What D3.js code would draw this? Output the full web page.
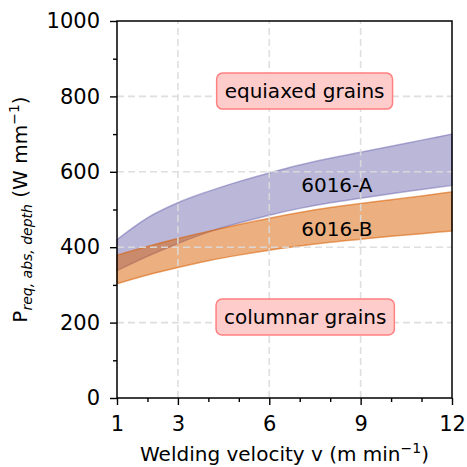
<!DOCTYPE html>
<html>
<head>
<meta charset="utf-8">
<script src="https://cdn.jsdelivr.net/npm/d3@7"></script>
<style>
  body { margin: 0; background: #fff; }
  text { font-family: "DejaVu Sans", sans-serif; fill: #000; }
</style>
</head>
<body>
<svg id="chart"></svg>
<script>
// values, P in W/mm at each welding velocity
var velocity = [1, 2, 3, 4, 5, 6, 7, 8, 9, 10, 11, 12];
var upperA = [420, 478, 518, 548, 574, 597, 618, 636, 652, 668, 684, 700];
var lowerA = [338, 376, 410, 440, 464, 485, 503, 518, 530, 542, 553, 564];
var upperB = [379, 402, 423, 442, 460, 477, 492, 505, 516, 526, 536, 547];
var lowerB = [303, 326, 346, 364, 379, 392, 403, 413, 421, 429, 436, 443];
var seriesNames = ["6016-A", "6016-B"];
var regionNames = ["equiaxed grains", "columnar grains"];
var xTicks = [1, 3, 6, 9, 12];
var xMinor = [2, 4, 5, 7, 8, 10, 11];
var yTicks = [0, 200, 400, 600, 800, 1000];
var yMinor = [100, 300, 500, 700, 900];

var width = 467, height = 467;
var margin = {top: 21, right: 15, bottom: 69, left: 117};

var svg = d3.select("#chart")
    .attr("width", width)
    .attr("height", height);

var x = d3.scaleLinear().domain([1, 12]).range([margin.left, width - margin.right]);
var y = d3.scaleLinear().domain([0, 1000]).range([height - margin.bottom, margin.top]);

var bands = [
  {name: seriesNames[0], lo: lowerA, hi: upperA, color: "#7570b3"},
  {name: seriesNames[1], lo: lowerB, hi: upperB, color: "#d95f02"}
];

var area = d3.area()
    .x(d => x(d.v))
    .y0(d => y(d.lo))
    .y1(d => y(d.hi))
    .curve(d3.curveMonotoneX);

bands.forEach(b => {
  var rows = velocity.map((v, i) => ({v: v, lo: b.lo[i], hi: b.hi[i]}));
  svg.append("path")
      .datum(rows)
      .attr("d", area)
      .attr("fill", b.color)
      .attr("fill-opacity", 0.5)
      .attr("stroke", b.color)
      .attr("stroke-opacity", 0.55)
      .attr("stroke-width", 1.5);
});

// dashed grid sits above the bands, like matplotlib does
var grid = svg.append("g").attr("stroke", "#dcdcdc").attr("stroke-width", 1.6)
    .attr("stroke-dasharray", "7,4").attr("opacity", 0.9);
grid.selectAll(".gx").data([3, 6, 9]).enter().append("line")
    .attr("x1", d => x(d)).attr("x2", d => x(d))
    .attr("y1", y(0)).attr("y2", y(1000));
grid.selectAll(".gy").data([200, 400, 600, 800]).enter().append("line")
    .attr("x1", x(1)).attr("x2", x(12))
    .attr("y1", d => y(d)).attr("y2", d => y(d));

// axes
var xAxis = svg.append("g")
    .attr("transform", "translate(0," + y(0) + ")")
    .call(d3.axisBottom(x).tickValues(xTicks).tickFormat(d3.format("d")).tickSize(7).tickPadding(11));
var xAxisMinor = svg.append("g")
    .attr("transform", "translate(0," + y(0) + ")")
    .call(d3.axisBottom(x).tickValues(xMinor).tickFormat("").tickSize(4));
var yAxis = svg.append("g")
    .attr("transform", "translate(" + x(1) + ",0)")
    .call(d3.axisLeft(y).tickValues(yTicks).tickFormat(d3.format("d")).tickSize(7).tickPadding(10));
var yAxisMinor = svg.append("g")
    .attr("transform", "translate(" + x(1) + ",0)")
    .call(d3.axisLeft(y).tickValues(yMinor).tickFormat("").tickSize(4));

[xAxis, xAxisMinor, yAxis, yAxisMinor].forEach(a => {
  a.select(".domain").remove();
  a.selectAll("line").attr("stroke", "#000").attr("stroke-width", 1.4);
  a.selectAll("text").attr("font-size", 21).attr("font-family", "DejaVu Sans").attr("fill", "#000");
});

svg.append("rect")
    .attr("x", x(1)).attr("y", y(1000))
    .attr("width", x(12) - x(1)).attr("height", y(0) - y(1000))
    .attr("fill", "none").attr("stroke", "#000").attr("stroke-width", 1.5);

// series labels
var seriesPos = [[8.22, 566], [8.22, 448]];
seriesNames.forEach((s, i) => {
  svg.append("text")
      .attr("x", x(seriesPos[i][0]))
      .attr("y", y(seriesPos[i][1]))
      .attr("text-anchor", "middle")
      .attr("dominant-baseline", "central")
      .attr("font-size", 20)
      .text(s);
});

// region boxes
var regionPos = [[7.16, 814], [7.18, 215]];
regionNames.forEach((r, i) => {
  var g = svg.append("g");
  var cx = x(regionPos[i][0]), cy = y(regionPos[i][1]);
  var box = g.append("rect");
  var t = g.append("text")
      .attr("x", cx).attr("y", cy)
      .attr("text-anchor", "middle")
      .attr("dominant-baseline", "central")
      .attr("font-size", 20)
      .text(r);
  var w = t.node().getComputedTextLength() + 16;
  box.attr("x", cx - w / 2).attr("y", cy - 18)
      .attr("width", w).attr("height", 36)
      .attr("rx", 6)
      .attr("fill", "#ffcccc")
      .attr("stroke", "#ff8080")
      .attr("stroke-width", 1.5);
});

// axis titles
var xl = svg.append("text")
    .attr("x", (x(1) + x(12)) / 2)
    .attr("y", 461)
    .attr("text-anchor", "middle")
    .attr("font-size", 20);
xl.append("tspan").text("Welding velocity v (m min");
xl.append("tspan").attr("font-size", 14).attr("dy", -8).text("\u22121");
xl.append("tspan").attr("dy", 8).text(")");

var yl = svg.append("text")
    .attr("transform", "translate(27," + (y(0) + y(1000)) / 2 + ") rotate(-90)")
    .attr("text-anchor", "middle")
    .attr("font-size", 20);
yl.append("tspan").text("P");
yl.append("tspan").attr("font-size", 14).attr("font-style", "italic").attr("dy", 5).text("req, abs, depth");
yl.append("tspan").attr("dy", -5).text(" (W mm");
yl.append("tspan").attr("font-size", 14).attr("dy", -8).text("\u22121");
yl.append("tspan").attr("dy", 8).text(")");
</script>
</body>
</html>
